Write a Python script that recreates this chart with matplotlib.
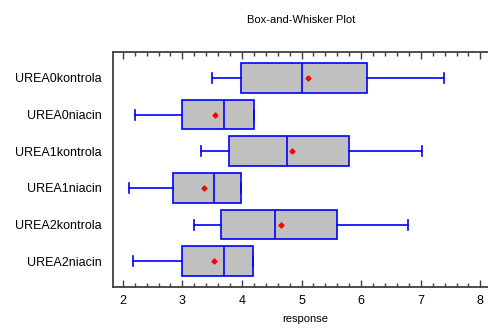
import matplotlib
matplotlib.use('Agg')
import matplotlib.pyplot as plt
from matplotlib.ticker import MultipleLocator

plt.rcParams['font.family'] = ['Liberation Sans', 'DejaVu Sans']

labels = ['UREA0kontrola', 'UREA0niacin', 'UREA1kontrola',
          'UREA1niacin', 'UREA2kontrola', 'UREA2niacin']
whislo = [3.50, 2.20, 3.32, 2.10, 3.20, 2.18]
q1 = [3.99, 3.00, 3.79, 2.84, 3.65, 3.00]
med = [5.00, 3.70, 4.75, 3.53, 4.56, 3.70]
q3 = [6.10, 4.21, 5.79, 3.99, 5.59, 4.18]
whishi = [7.39, 4.21, 7.02, 3.99, 6.78, 4.18]
means = [5.11, 3.55, 4.84, 3.37, 4.66, 3.53]

stats = []
for i, lab in enumerate(labels):
    stats.append(dict(label=lab, whislo=whislo[i], q1=q1[i], med=med[i],
                      q3=q3[i], whishi=whishi[i], mean=means[i], fliers=[]))

fig = plt.figure(figsize=(4.88, 3.29), dpi=100)
ax = fig.add_axes([0.231, 0.1277, 0.790, 0.7134])

blue = '#0000FF'
pos = list(range(1, len(labels) + 1))
ax.bxp(stats, positions=pos, vert=False, widths=0.81, capwidths=0.27,
       patch_artist=True, showmeans=True,
       boxprops=dict(facecolor='#C0C0C0', edgecolor=blue, linewidth=1.2),
       medianprops=dict(color=blue, linewidth=1.2),
       whiskerprops=dict(color=blue, linewidth=1.2),
       capprops=dict(color=blue, linewidth=1.2),
       meanprops=dict(marker='P', markerfacecolor='red', markeredgecolor='red',
                      markersize=3.2))

ax.set_xlim(1.832, 8.3)
ax.set_ylim(6.7, 0.3)
ax.set_yticks(pos)
ax.set_yticklabels(labels, fontsize=9)
ax.xaxis.set_major_locator(MultipleLocator(1))
ax.xaxis.set_minor_locator(MultipleLocator(0.2))
ax.tick_params(axis='x', which='both', direction='in', top=True, bottom=True,
               color='#404040', labelsize=9, pad=6)
ax.tick_params(axis='x', which='major', length=5, width=1)
ax.tick_params(axis='x', which='minor', length=3, width=1)
ax.tick_params(axis='y', length=0, pad=8)

for side in ['left', 'top', 'bottom']:
    ax.spines[side].set_color('#404040')
    ax.spines[side].set_linewidth(1.3)
ax.spines['right'].set_visible(False)

ax.set_xlabel('response', fontsize=8, labelpad=5)
fig.text(0.617, 0.938, 'Box-and-Whisker Plot', ha='center', va='center', fontsize=8)

fig.savefig('out.png', dpi=100)
